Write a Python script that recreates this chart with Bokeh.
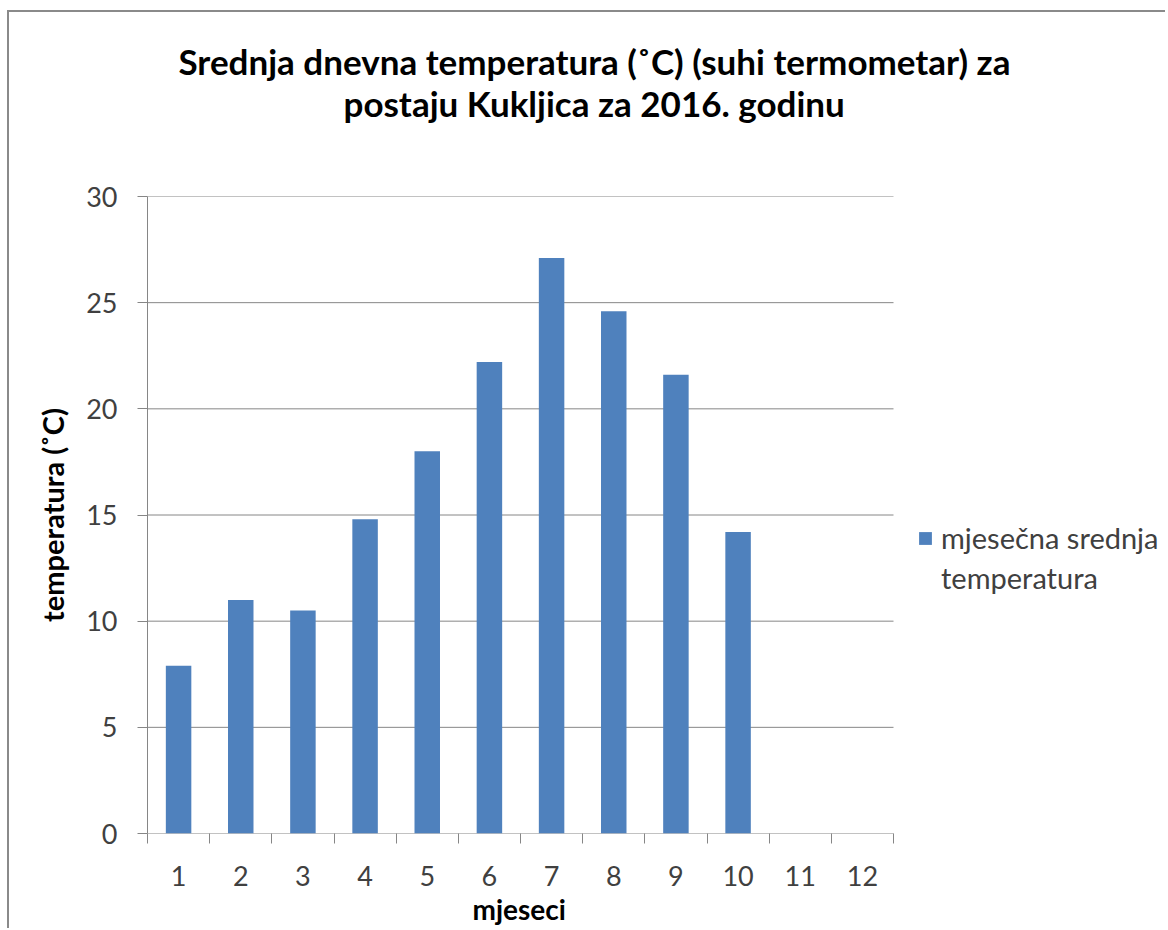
from bokeh.plotting import figure
from bokeh.models import FixedTicker, Legend, LegendItem, Title
from bokeh.embed import file_html
from bokeh.resources import INLINE

# ---- data ----
months = [1, 2, 3, 4, 5, 6, 7, 8, 9, 10, 11, 12]
bar_months = [1, 2, 3, 4, 5, 6, 7, 8, 9, 10]
temps = [7.9, 11.0, 10.5, 14.8, 18.0, 22.2, 27.1, 24.6, 21.6, 14.2]
y_ticks = [0, 5, 10, 15, 20, 25, 30]
title_line1 = "Srednja dnevna temperatura (˚C) (suhi termometar)  za"
title_line2 = "postaju Kukljica za 2016. godinu"
x_title = "mjeseci"
y_title = "temperatura (˚C)"
series_label = ["mjesečna srednja", "temperatura"]

FONT = "Lato"
GRAY = "#868686"
BLUE = "#4F81BD"

# layout: the frame runs to the right edge so the legend can sit inside it;
# the category axis only uses the first PLOT_W pixels of it.
W, H = 1158, 918
LEFT, TOP, BOTTOM = 138, 184, 97
PLOT_W = 746
FRAME_W = W - LEFT
x_start = months[0] - 0.5
x_cat_end = months[-1] + 0.5
x_end = x_start + (x_cat_end - x_start) * FRAME_W / PLOT_W

p = figure(width=W, height=H, x_range=(x_start, x_end), y_range=(y_ticks[0], y_ticks[-1]),
           output_backend="svg", toolbar_location=None, title=None,
           min_border_left=LEFT, min_border_right=0,
           min_border_top=TOP, min_border_bottom=BOTTOM)
p.styles = {"border-left": "2px solid #8a8a8a", "border-top": "2px solid #8a8a8a",
            "margin-left": "7px", "margin-top": "10px"}
p.outline_line_color = None
p.background_fill_color = "white"
p.border_fill_color = "white"

# horizontal gridlines and category axis line, limited to the category area
p.segment(x0=[x_start] * len(y_ticks), x1=[x_cat_end] * len(y_ticks),
          y0=y_ticks, y1=y_ticks, line_color=GRAY, line_width=1)

bars = p.vbar(x=bar_months, top=temps, width=0.41, bottom=0,
              fill_color=BLUE, line_color=None)
dummy = p.vbar(x=[], top=[], width=0.41, fill_alpha=0, line_alpha=0)

# titles (spacer closest to the frame, then line 2, then line 1)
spacer = Title(text=" ", text_font_size="1px", standoff=71)
t2 = Title(text=title_line2, align="left", offset=196, standoff=-2,
           text_font=FONT, text_font_size="35px", text_font_style="bold", text_color="black")
t1 = Title(text=title_line1, align="left", offset=31, standoff=-2,
           text_font=FONT, text_font_size="35px", text_font_style="bold", text_color="black")
p.add_layout(spacer, "above")
p.add_layout(t2, "above")
p.add_layout(t1, "above")

# y axis
p.yaxis.ticker = FixedTicker(ticks=y_ticks)
p.yaxis.major_tick_out = 10
p.yaxis.major_tick_in = 0
p.yaxis.minor_tick_out = 0
p.yaxis.minor_tick_in = 0
p.yaxis.axis_line_color = GRAY
p.yaxis.major_tick_line_color = GRAY
p.yaxis.major_label_standoff = 20
p.yaxis.major_label_text_font = FONT
p.yaxis.major_label_text_font_size = "27px"
p.yaxis.major_label_text_color = "#404040"
p.yaxis.axis_label = y_title
p.yaxis.axis_label_text_font = FONT
p.yaxis.axis_label_text_font_size = "29px"
p.yaxis.axis_label_text_font_style = "bold"
p.yaxis.axis_label_text_color = "black"
p.yaxis.axis_label_standoff = 13

# x axis (tick marks at category boundaries, labels at category centres)
p.xaxis.ticker = FixedTicker(ticks=months, minor_ticks=[m - 0.5 for m in months] + [months[-1] + 0.5])
p.xaxis.major_tick_out = 0
p.xaxis.major_tick_in = 0
p.xaxis.minor_tick_out = 10
p.xaxis.minor_tick_in = 0
p.xaxis.minor_tick_line_color = GRAY
p.xaxis.axis_line_color = None
p.xaxis.major_label_standoff = 22
p.xaxis.major_label_text_font = FONT
p.xaxis.major_label_text_font_size = "27px"
p.xaxis.major_label_text_color = "#404040"

x_label = Title(text=x_title, align="left", offset=325, standoff=2,
                text_font=FONT, text_font_size="28px", text_font_style="bold", text_color="black")
p.add_layout(x_label, "below")

p.xgrid.visible = False
p.ygrid.visible = False

# legend
legend = Legend(items=[LegendItem(label=series_label[0], renderers=[bars]),
                       LegendItem(label=series_label[1], renderers=[dummy])],
                location=(770, 238), padding=0, margin=0, spacing=5,
                glyph_width=16, glyph_height=16, label_height=30, label_standoff=8,
                label_text_font=FONT, label_text_font_size="29px", label_text_color="#404040",
                border_line_alpha=0, background_fill_alpha=0)
p.add_layout(legend)

open("out.html", "w").write(file_html(p, INLINE))
